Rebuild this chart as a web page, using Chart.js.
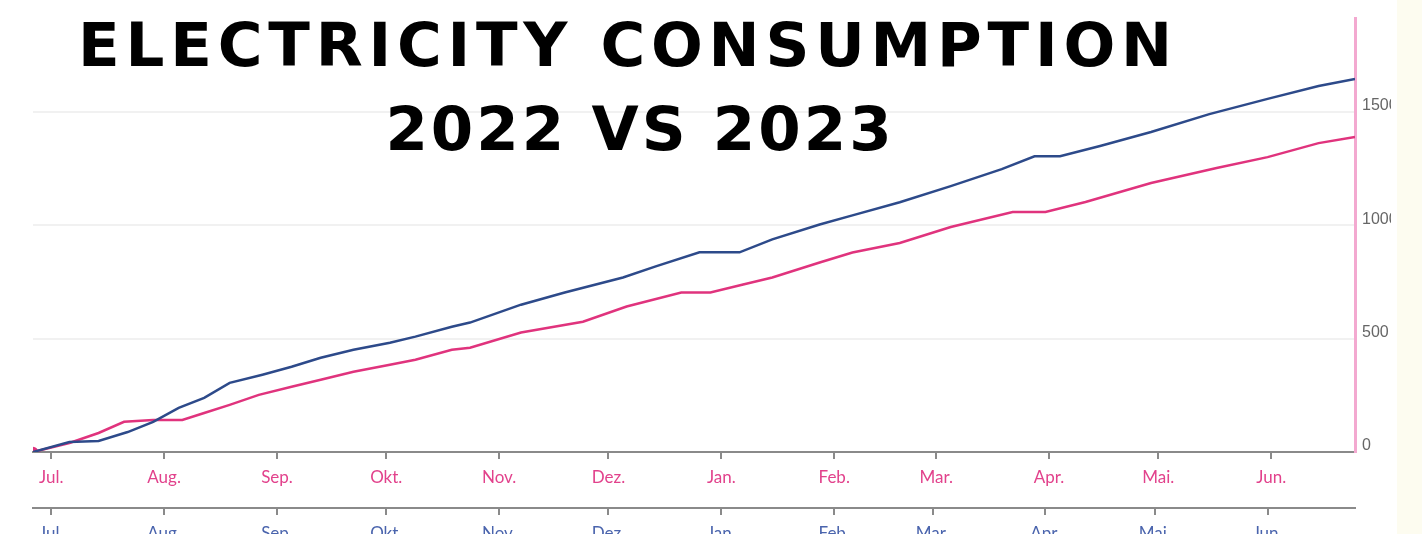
<!DOCTYPE html>
<html>
<head>
<meta charset="utf-8">
<script src="https://cdn.jsdelivr.net/npm/chart.js@4.4.1/dist/chart.umd.min.js"></script>
<style>
  body { margin: 0; background: #fdfcf0; }
  #wrap { position: relative; width: 1397px; height: 534px; background: #fff; overflow: hidden; }
  #chart { position: absolute; left: 0; top: 0; }
  .title {
    position: absolute; left: 0; width: 1256px; text-align: center;
    font-family: "DejaVu Sans", sans-serif; font-weight: bold; font-size: 61px;
    line-height: 61px; letter-spacing: 5.8px; color: #000; white-space: nowrap;
  }
</style>
</head>
<body>
<div id="wrap">
  <canvas id="chart" width="1391" height="548"></canvas>
  <div class="title" style="top: 14px;">ELECTRICITY CONSUMPTION</div>
  <div class="title" style="top: 98px; left: 12px; letter-spacing: 3px;">2022 VS 2023</div>
</div>
<script>
// X = days since 1 July, Y = cumulative kWh
const blueDays = [-5, 5, 13, 21, 28, 35, 42, 49, 58, 66, 74, 83, 93, 100, 110, 115, 129, 141, 157, 166,
  178, 189, 198, 211, 220, 233, 247, 261, 270, 277, 288, 302, 318, 334, 348, 358];
const blueValues = [0, 44, 49, 88, 133, 195, 239, 305, 341, 376, 416, 451, 482, 509, 553, 571, 650, 704, 770, 819,
  881, 881, 938, 1004, 1044, 1102, 1173, 1248, 1305, 1305, 1350, 1412, 1491, 1558, 1615, 1646];

const pinkDays = [-5, 5, 13, 20, 28, 36, 42, 49, 57, 66, 74, 83, 93, 100, 110, 115, 129, 146, 158, 173,
  181, 190, 198, 211, 220, 233, 247, 264, 273, 284, 302, 320, 334, 348, 358];
const pinkValues = [0, 40, 84, 133, 141, 141, 172, 208, 252, 288, 319, 354, 385, 407, 451, 460, 527, 575, 642, 704,
  704, 739, 770, 836, 880, 922, 993, 1059, 1059, 1103, 1187, 1253, 1301, 1363, 1390];

// MONTH AXES
const monthLabels = ["Jul.", "Aug.", "Sep.", "Okt.", "Nov.", "Dez.", "Jan.", "Feb.", "Mar.", "Apr.", "Mai.", "Jun."];
const monthDays = [0, 31, 62, 92, 123, 153, 184, 215, 243, 274, 304, 335];
const prevMonthDays = [0, 31, 62, 92, 123, 153, 184, 215, 242, 273, 303, 334];

// Y AXIS
const yTicks = [0, 500, 1000, 1500];

const toPoints = (xs, ys) => xs.map((d, i) => ({ x: d, y: ys[i] }));

new Chart(document.getElementById("chart"), {
  type: "line",
  data: {
    datasets: [
      {
        label: "2023",
        data: toPoints(blueDays, blueValues),
        borderColor: "#2d4a8a",
        borderWidth: 2.5,
        pointRadius: 0,
        tension: 0
      },
      {
        label: "2022",
        data: toPoints(pinkDays, pinkValues),
        borderColor: "#e0337d",
        backgroundColor: "#e0337d",
        borderWidth: 2.5,
        pointRadius: ctx => (ctx.dataIndex === 0 ? 4 : 0),
        tension: 0
      }
    ]
  },
  options: {
    responsive: false,
    animation: false,
    layout: { padding: { left: 33, top: 18, right: 0, bottom: 0 } },
    plugins: { legend: { display: false }, tooltip: { enabled: false } },
    scales: {
      x: {
        type: "linear",
        position: "bottom",
        min: -5,
        max: 358,
        afterBuildTicks: s => { s.ticks = monthDays.map(v => ({ value: v })); },
        afterFit: s => { s.height = 56; },
        grid: { drawOnChartArea: false, tickLength: 7, color: "#8a8a8a", lineWidth: 2 },
        border: { color: "#8a8a8a", width: 2 },
        ticks: {
          autoSkip: false, maxRotation: 0, padding: 8,
          color: "#e2428c",
          font: { family: "Lato", size: 17 },
          callback: (v, i) => monthLabels[i]
        }
      },
      x2: {
        type: "linear",
        position: "bottom",
        min: -5,
        max: 358,
        afterBuildTicks: s => { s.ticks = prevMonthDays.map(v => ({ value: v })); },
        afterFit: s => { s.height = 40; },
        grid: { drawOnChartArea: false, tickLength: 7, color: "#8a8a8a", lineWidth: 2 },
        border: { color: "#8a8a8a", width: 2 },
        ticks: {
          autoSkip: false, maxRotation: 0, padding: 8,
          color: "#4a64ad",
          font: { family: "Lato", size: 17 },
          callback: (v, i) => monthLabels[i]
        }
      },
      y: {
        position: "right",
        min: 0,
        max: 1915,
        afterBuildTicks: s => { s.ticks = yTicks.map(v => ({ value: v })); },
        afterFit: s => { s.width = 36; },
        grid: { color: "#f1f1f1", lineWidth: 2, drawTicks: false },
        border: { color: "#f3a9d0", width: 3 },
        ticks: {
          padding: 7,
          labelOffset: -6,
          color: "#666",
          font: { family: "Liberation Sans", size: 16 },
          callback: v => String(v)
        }
      }
    }
  }
});
</script>
</body>
</html>
